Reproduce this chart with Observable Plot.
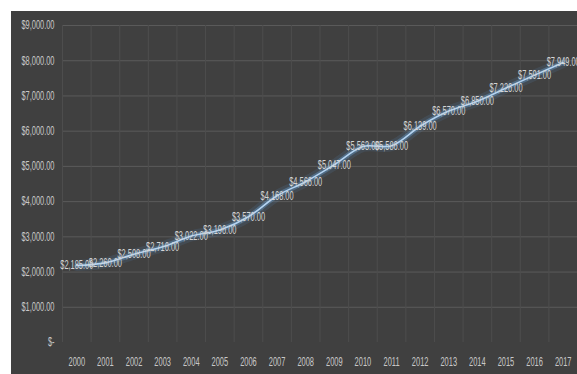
<!DOCTYPE html>
<html>
<head>
<meta charset="utf-8">
<script src="https://cdn.jsdelivr.net/npm/d3@7"></script>
<script src="https://cdn.jsdelivr.net/npm/@observablehq/plot@0.6"></script>
<style>
  html, body { margin: 0; padding: 0; background: #ffffff; }
  #chart { position: absolute; left: 11px; top: 11px; width: 566px; height: 363px; background: #404040; overflow: hidden; }
</style>
</head>
<body>
<div id="chart"></div>
<script>
const years = [2000, 2001, 2002, 2003, 2004, 2005, 2006, 2007, 2008, 2009, 2010, 2011, 2012, 2013, 2014, 2015, 2016, 2017];
const values = [2185, 2260, 2508, 2716, 3022, 3196, 3570, 4168, 4566, 5047, 5563, 5586, 6139, 6570, 6850, 7226, 7591, 7949];
const yTicks = [0, 1000, 2000, 3000, 4000, 5000, 6000, 7000, 8000, 9000];

const data = years.map((y, i) => ({year: y, value: values[i]}));
const bounds = years.map(y => y - 0.5).concat([years[years.length - 1] + 0.5]);
const money = d => d === 0 ? "$-" : "$" + d3.format(",.2f")(d);

const plot = Plot.plot({
  width: 566,
  height: 363,
  marginLeft: 51,
  marginRight: 0,
  marginTop: 14,
  marginBottom: 32,
  style: {background: "#404040", color: "#c8c8c8", fontFamily: "'Liberation Sans', Arial, sans-serif", fontSize: "12px", overflow: "visible"},
  x: {type: "linear", domain: [years[0] - 0.5, years[years.length - 1] + 0.5], ticks: years, tickFormat: d => String(d), tickSize: 0, tickPadding: 15, label: null},
  y: {domain: [0, 9000], ticks: yTicks, tickFormat: money, tickSize: 0, tickPadding: 8, label: null},
  marks: [
    Plot.ruleY(yTicks.filter(d => d > 0), {stroke: "#5a5a5a", strokeWidth: 1}),
    Plot.ruleX(bounds, {y1: 0, y2: 9000, stroke: "#4d4d4d", strokeWidth: 1}),
    Plot.line(data, {x: "year", y: "value", curve: "catmull-rom", stroke: "#5b9bd5", strokeWidth: 11, strokeOpacity: 0.13}),
    Plot.line(data, {x: "year", y: "value", curve: "catmull-rom", stroke: "#6aa8e0", strokeWidth: 5, strokeOpacity: 0.35}),
    Plot.line(data, {x: "year", y: "value", curve: "catmull-rom", stroke: "#b4d4f2", strokeWidth: 1.6}),
    Plot.text(data, {x: "year", y: "value", text: d => money(d.value), fill: "#d4d4d4", fontSize: 12, textAnchor: "middle"})
  ]
});
document.getElementById("chart").appendChild(plot);
// condense all text like the reference's narrow font
d3.select(plot).selectAll("text").each(function() {
  const w = this.getComputedTextLength();
  if (w > 0) {
    this.setAttribute("textLength", (w * 0.62).toFixed(1));
    this.setAttribute("lengthAdjust", "spacingAndGlyphs");
  }
});
</script>
</body>
</html>
